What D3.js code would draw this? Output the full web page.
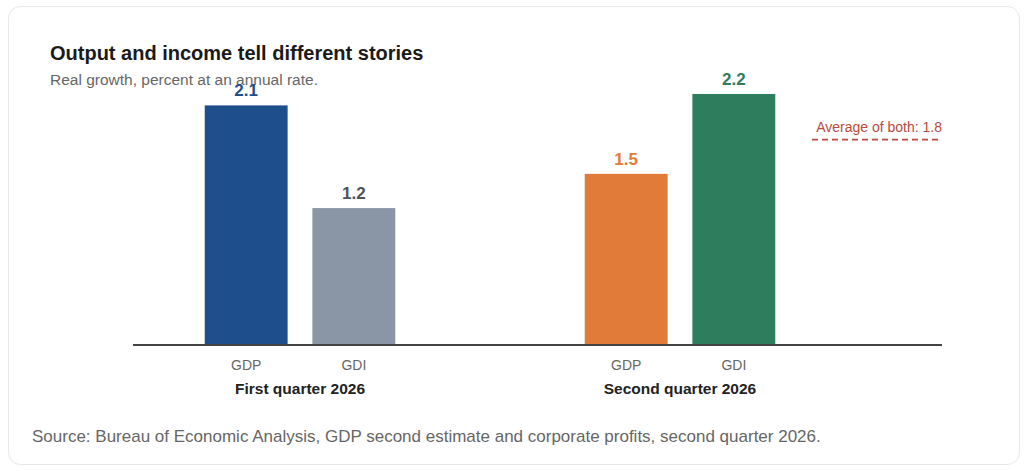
<!DOCTYPE html>
<html>
<head>
<meta charset="utf-8">
<script src="https://cdn.jsdelivr.net/npm/d3@7"></script>
<style>
	html, body { margin: 0; padding: 0; background: #ffffff; }
	svg { display: block; font-family: "Liberation Sans", Arial, sans-serif; }
</style>
</head>
<body>
<svg id="chart" width="1024" height="471"></svg>
<script>
// DATA
const quarters = ['First quarter 2026', 'Second quarter 2026'];
const measures = ['GDP', 'GDI'];
const gdpValues = [2.1, 1.5];
const gdiValues = [1.2, 2.2];
const averageValue = 1.8;

// colours per quarter / measure
const barColors = {
	'First quarter 2026': { GDP: '#1f4e8d', GDI: '#8a95a6' },
	'Second quarter 2026': { GDP: '#e07b39', GDI: '#2e7d5c' }
};
const labelColors = {
	'First quarter 2026': { GDP: '#1f4e8d', GDI: '#4d5360' },
	'Second quarter 2026': { GDP: '#e07b39', GDI: '#2e7d5c' }
};

// SVG CONSTANTS
const svg = d3.select('#chart');
const axisLeft = 133;
const axisRight = 942;
const baseline = 345;
const pxPerUnit = 114.1;

// build rows from the arrays
let rows = [];
quarters.forEach(function(q, i){
	rows.push({ quarter: q, measure: 'GDP', value: gdpValues[i] });
	rows.push({ quarter: q, measure: 'GDI', value: gdiValues[i] });
});

// scales
const x0 = d3.scaleBand()
	.domain(quarters)
	.range([110, 870]);

const x1 = d3.scaleBand()
	.domain(measures)
	.range([0, x0.bandwidth()])
	.paddingInner(0.23)
	.paddingOuter(0.88);

const yMax = 2.6;
const y = d3.scaleLinear()
	.domain([0, yMax])
	.range([baseline, baseline - yMax * pxPerUnit]);

// card background
svg.append('rect')
	.attr('x', 8.5)
	.attr('y', 6.5)
	.attr('width', 1011)
	.attr('height', 458)
	.attr('rx', 12)
	.attr('fill', '#ffffff')
	.attr('stroke', '#e8e8e8')
	.attr('stroke-width', 1);

// title + subtitle
svg.append('text')
	.attr('x', 50)
	.attr('y', 60)
	.attr('font-size', '20px')
	.attr('font-weight', 'bold')
	.attr('fill', '#1a1a1a')
	.text('Output and income tell different stories');

svg.append('text')
	.attr('x', 50)
	.attr('y', 85)
	.attr('font-size', '15.5px')
	.attr('fill', '#666666')
	.text('Real growth, percent at an annual rate.');

// bars
const groups = svg.append('g')
	.selectAll('g')
	.data(quarters)
	.join('g')
		.attr('transform', function(q){ return 'translate(' + x0(q) + ',0)'; });

groups.selectAll('rect')
	.data(function(q){ return rows.filter(function(r){ return r.quarter == q; }); })
	.join('rect')
		.attr('x', function(d){ return x1(d.measure); })
		.attr('y', function(d){ return y(d.value); })
		.attr('width', x1.bandwidth())
		.attr('height', function(d){ return y(0) - y(d.value); })
		.attr('fill', function(d){ return barColors[d.quarter][d.measure]; });

// value labels
groups.selectAll('text.value')
	.data(function(q){ return rows.filter(function(r){ return r.quarter == q; }); })
	.join('text')
		.attr('class', 'value')
		.attr('x', function(d){ return x1(d.measure) + x1.bandwidth() / 2; })
		.attr('y', function(d){ return y(d.value) - 9; })
		.attr('text-anchor', 'middle')
		.attr('font-size', '17px')
		.attr('font-weight', 'bold')
		.attr('fill', function(d){ return labelColors[d.quarter][d.measure]; })
		.text(function(d){ return d3.format('.1f')(d.value); });

// measure tick labels
groups.selectAll('text.tick')
	.data(measures)
	.join('text')
		.attr('class', 'tick')
		.attr('x', function(m){ return x1(m) + x1.bandwidth() / 2; })
		.attr('y', baseline + 25)
		.attr('text-anchor', 'middle')
		.attr('font-size', '14px')
		.attr('fill', '#666666')
		.text(function(m){ return m; });

// quarter labels
groups.append('text')
	.attr('x', x0.bandwidth() / 2)
	.attr('y', baseline + 49)
	.attr('text-anchor', 'middle')
	.attr('font-size', '15.5px')
	.attr('font-weight', 'bold')
	.attr('fill', '#222222')
	.text(function(q){ return q; });

// baseline axis
svg.append('line')
	.attr('x1', axisLeft)
	.attr('x2', axisRight)
	.attr('y1', y(0))
	.attr('y2', y(0))
	.attr('stroke', '#444444')
	.attr('stroke-width', 2);

// average reference
svg.append('line')
	.attr('x1', 812)
	.attr('x2', axisRight)
	.attr('y1', y(averageValue))
	.attr('y2', y(averageValue))
	.attr('stroke', '#b84a3e')
	.attr('stroke-width', 1.6)
	.attr('stroke-dasharray', '6,4');

svg.append('text')
	.attr('x', axisRight)
	.attr('y', y(averageValue) - 8)
	.attr('text-anchor', 'end')
	.attr('font-size', '14px')
	.attr('fill', '#b84a3e')
	.text('Average of both: ' + d3.format('.1f')(averageValue));

// source note
svg.append('text')
	.attr('x', 32)
	.attr('y', 442)
	.attr('font-size', '17px')
	.attr('fill', '#666666')
	.text('Source: Bureau of Economic Analysis, GDP second estimate and corporate profits, second quarter 2026.');
</script>
</body>
</html>
